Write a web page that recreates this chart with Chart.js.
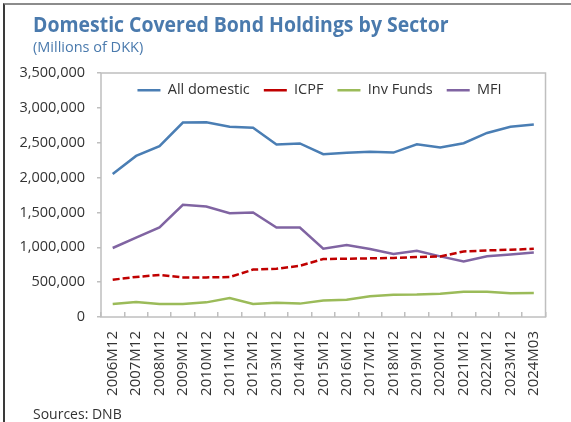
<!DOCTYPE html>
<html>
<head>
<meta charset="utf-8">
<script src="https://cdn.jsdelivr.net/npm/chart.js@4.4.1/dist/chart.umd.min.js"></script>
<style>
  body { margin: 0; background: #fff; font-family: "Open Sans", sans-serif; }
  #frame { position: absolute; left: 3px; top: 3px; width: 568px; height: 419px;
           border-left: 2px solid #3a3a3a; border-top: 2px solid #8c8c8c; }
  .txt { position: absolute; left: 33px; white-space: nowrap; line-height: normal; }
  #title { top: 10px; font-size: 21px; font-weight: 700; color: #4a7aad;
           transform: scaleX(0.926); transform-origin: left top; }
  #sub { top: 37px; font-size: 14.5px; color: #4a7aad; }
  #src { top: 404px; font-size: 14px; color: #333; }
  #wrap { position: absolute; left: 0; top: 0; width: 571px; height: 422px; }
</style>
</head>
<body>
<div id="frame"></div>
<div id="wrap"><canvas id="chart"></canvas></div>
<div class="txt" id="title">Domestic Covered Bond Holdings by Sector</div>
<div class="txt" id="sub">(Millions of DKK)</div>
<div class="txt" id="src">Sources: DNB</div>

<script>
const periods = ['2006M12', '2007M12', '2008M12', '2009M12', '2010M12', '2011M12', '2012M12',
  '2013M12', '2014M12', '2015M12', '2016M12', '2017M12', '2018M12', '2019M12', '2020M12',
  '2021M12', '2022M12', '2023M12', '2024M03']

const allDomestic = [2050000, 2310000, 2450000, 2790000, 2795000, 2730000, 2715000, 2475000, 2490000,
  2335000, 2355000, 2372000, 2358000, 2478000, 2430000, 2493000, 2640000, 2730000, 2762000]
const icpf = [535000, 575000, 602000, 568000, 568000, 573000, 680000, 692000, 735000,
  832000, 836000, 841000, 846000, 860000, 869000, 940000, 955000, 965000, 978000]
const invFunds = [188000, 215000, 188000, 188000, 210000, 272000, 188000, 205000, 192000,
  238000, 248000, 296000, 320000, 322000, 334000, 363000, 362000, 340000, 344000]
const mfi = [990000, 1138000, 1284000, 1609000, 1585000, 1490000, 1499000, 1284000, 1284000,
  980000, 1031000, 975000, 905000, 950000, 870000, 798000, 870000, 898000, 926000]

const yTicks = { min: 0, max: 3500000, step: 500000 }

const axisGrey = '#bfbfbf'
const textColor = '#333333'

// plot frame (excel style box round the plot area)
const frameBox = {
  id: 'frameBox',
  beforeDatasetsDraw(chart) {
    const { ctx, chartArea: a } = chart
    ctx.save()
    ctx.strokeStyle = axisGrey
    ctx.lineWidth = 1.5
    ctx.strokeRect(a.left, a.top, a.right - a.left, a.bottom - a.top)
    ctx.restore()
  }
}

// legend sits inside the plot: take no height in the layout, then get it back for drawing
const flatLegend = {
  id: 'flatLegend',
  beforeLayout(chart) {
    const lg = chart.legend
    if (lg && !lg._flat) {
      const fit = lg.fit.bind(lg)
      lg.fit = function () { fit(); this._realH = this.height; this.height = 0 }
      lg._flat = true
    }
  },
  afterLayout(chart) {
    const lg = chart.legend
    if (!lg) return
    lg.top = lg.top - 4
    lg.height = lg._realH
    lg.bottom = lg.top + lg._realH
    lg.left = 75
    lg.width = lg.right - lg.left
  }
}

document.addEventListener('DOMContentLoaded', () => {
  const ctx = document.getElementById('chart').getContext('2d')

  new Chart(ctx, {
    type: 'line',
    data: {
      labels: periods,
      datasets: [
        { label: 'All domestic', data: allDomestic, borderColor: '#4a7eb4', borderWidth: 2.5 },
        { label: 'ICPF', data: icpf, borderColor: '#c00000', borderWidth: 2.5, borderDash: [7, 3] },
        { label: 'Inv Funds', data: invFunds, borderColor: '#9bbb59', borderWidth: 2.5 },
        { label: 'MFI', data: mfi, borderColor: '#8064a2', borderWidth: 2.5 }
      ]
    },
    options: {
      responsive: true,
      maintainAspectRatio: false,
      animation: false,
      elements: {
        point: { radius: 0 },
        line: { tension: 0, fill: false }
      },
      layout: { padding: { left: 0, top: 73, right: 7, bottom: 0 } },
      plugins: {
        legend: {
          position: 'top',
          labels: {
            usePointStyle: true,
            pointStyle: 'line',
            pointStyleWidth: 23,
            padding: 14,
            color: textColor,
            font: { family: 'Open Sans', size: 14.5 }
          }
        },
        tooltip: { enabled: false }
      },
      scales: {
        x: {
          offset: true,
          afterFit: (s) => { s.height = 105 },
          border: { display: false },
          grid: { offset: true, drawOnChartArea: false, tickLength: -5, color: axisGrey, lineWidth: 1.5 },
          ticks: {
            autoSkip: false,
            minRotation: 90,
            maxRotation: 90,
            padding: 19,
            color: textColor,
            font: { family: 'Open Sans', size: 15 }
          }
        },
        y: {
          min: yTicks.min,
          max: yTicks.max,
          afterFit: (s) => { s.width = 101 },
          border: { display: false },
          grid: { drawOnChartArea: false, tickLength: 4, color: axisGrey, lineWidth: 1.5 },
          ticks: {
            stepSize: yTicks.step,
            padding: 12,
            color: textColor,
            font: { family: 'Open Sans', size: 14.5 },
            callback: (v) => v.toLocaleString('en-US')
          }
        }
      }
    },
    plugins: [frameBox, flatLegend]
  })
})
</script>
</body>
</html>
